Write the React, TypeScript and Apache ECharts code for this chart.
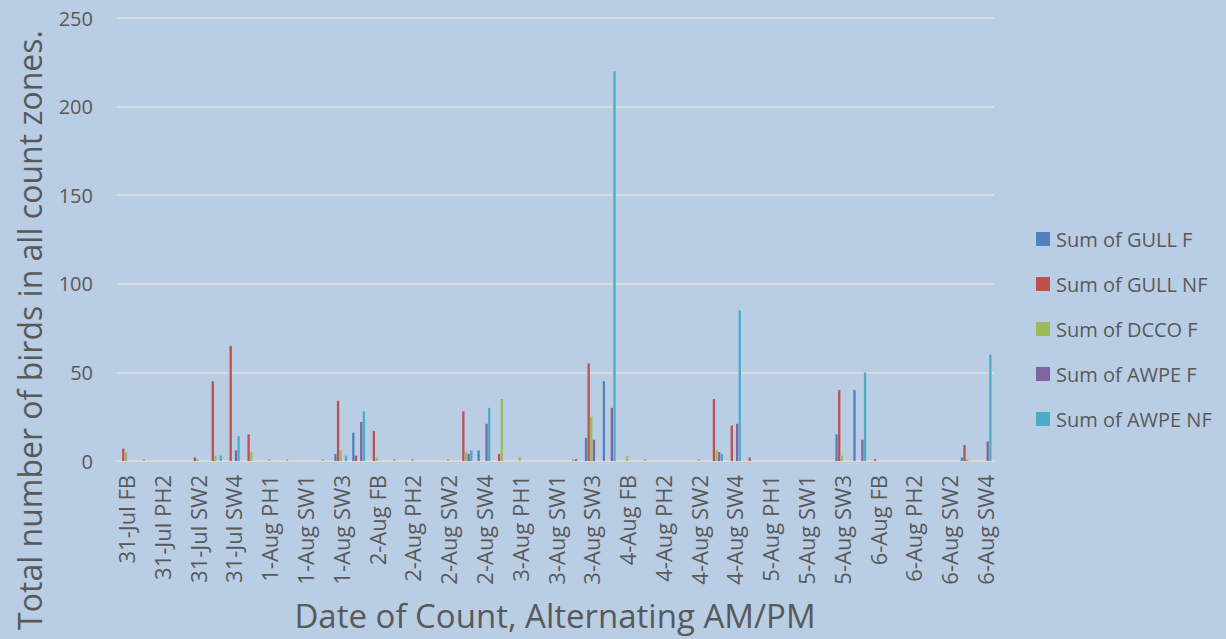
import React, { useEffect, useRef } from "react";
import * as echarts from "echarts";

const days = ["31-Jul", "1-Aug", "2-Aug", "3-Aug", "4-Aug", "5-Aug", "6-Aug"];
const sites = ["FB", "PH1", "PH2", "SW1", "SW2", "SW3", "SW4"];
const categories = days.flatMap((d) => sites.map((s) => `${d} ${s}`));

const seriesNames = ["Sum of GULL F", "Sum of GULL NF", "Sum of DCCO F", "Sum of AWPE F", "Sum of AWPE NF"];
const seriesColors = ["#4F81BD", "#C0504D", "#9BBB59", "#8064A2", "#4BACC6"];

const gullF = [
  0, 0, 0, 0, 0, 0, 0,
  0, 0, 0, 0, 0, 4, 16,
  0, 0, 0, 0, 0, 0, 6,
  0, 0, 0, 0, 0, 13, 45,
  0, 0, 0, 0, 0, 0, 0,
  0, 0, 0, 0, 0, 15, 40,
  0, 0, 0, 0, 0, 2, 0,
];
const gullNF = [
  7, 0, 0, 0, 2, 45, 65,
  15, 0, 0, 0, 0, 34, 3,
  17, 0, 0, 0, 0, 28, 0,
  4, 0, 0, 0, 0, 55, 0,
  0, 0, 0, 0, 0, 35, 20,
  2, 0, 0, 0, 0, 40, 0,
  1, 0, 0, 0, 0, 9, 0,
];
const dccoF = [
  5, 1, 0, 0, 1, 3, 0,
  5, 1, 1, 0, 1, 6, 0,
  2, 1, 1, 0, 1, 5, 0,
  35, 2, 0, 0, 1, 25, 0,
  3, 1, 0, 0, 1, 6, 0,
  0, 0, 0, 0, 0, 3, 0,
  0, 0, 0, 0, 0, 1, 0,
];
const awpeF = [
  0, 0, 0, 0, 0, 0, 6,
  0, 0, 0, 0, 0, 0, 22,
  0, 0, 0, 0, 0, 4, 21,
  0, 0, 0, 0, 1, 12, 30,
  0, 0, 0, 0, 0, 5, 21,
  0, 0, 0, 0, 0, 0, 12,
  0, 0, 0, 0, 0, 0, 11,
];
const awpeNF = [
  0, 0, 0, 0, 0, 3, 14,
  0, 0, 0, 0, 0, 3, 28,
  0, 0, 0, 0, 0, 6, 30,
  0, 0, 0, 0, 0, 0, 220,
  0, 0, 0, 0, 0, 4, 85,
  0, 0, 0, 0, 0, 0, 50,
  0, 0, 0, 0, 0, 0, 60,
];
const allSeries = [gullF, gullNF, dccoF, awpeF, awpeNF];

const yTitle = "Total number of birds in all count zones.";
const xTitle = "Date of Count, Alternating AM/PM";

const FONT = "'Open Sans', sans-serif";
const TEXT = "#595959";

export default function App() {
  const ref = useRef<HTMLDivElement>(null);
  useEffect(() => {
    if (!ref.current) return;
    const chart = echarts.init(ref.current, undefined, { renderer: "svg" });
    chart.setOption({
      animation: false,
      backgroundColor: "#B9CDE5",
      textStyle: { fontFamily: FONT },
      grid: { left: 117, right: 232, top: 18, bottom: 178, containLabel: false },
      legend: {
        orient: "vertical",
        left: 1031,
        top: 224,
        itemWidth: 14,
        itemHeight: 14,
        itemGap: 25,
        icon: "rect",
        data: seriesNames,
        textStyle: { color: TEXT, fontSize: 20, fontFamily: FONT, padding: [0, 0, 0, 1] },
      },
      xAxis: {
        type: "category",
        data: categories,
        axisLine: { lineStyle: { color: "#D9D9D9", width: 2 } },
        axisTick: { show: false },
        axisLabel: {
          interval: 1,
          rotate: 90,
          color: TEXT,
          fontSize: 22,
          fontFamily: FONT,
          margin: 14,
        },
      },
      yAxis: {
        type: "value",
        min: 0,
        max: 250,
        interval: 50,
        axisLine: { show: false },
        axisTick: { show: false },
        axisLabel: { color: TEXT, fontSize: 20, fontFamily: FONT, margin: 24 },
        splitLine: { lineStyle: { color: "#D9D9D9", width: 2 } },
      },
      series: seriesNames.map((name, k) => ({
        name,
        type: "bar",
        data: allSeries[k],
        barWidth: 2.3,
        barGap: "15%",
        itemStyle: { color: seriesColors[k] },
      })),
      graphic: [
        {
          type: "text",
          x: 29,
          y: 330,
          rotation: Math.PI / 2,
          style: {
            text: yTitle,
            fill: TEXT,
            fontSize: 32,
            fontFamily: FONT,
            align: "center",
            verticalAlign: "middle",
          },
        },
        {
          type: "text",
          x: 555,
          y: 615,
          style: {
            text: xTitle,
            fill: TEXT,
            fontSize: 33,
            fontFamily: FONT,
            align: "center",
            verticalAlign: "middle",
          },
        },
      ],
    });
    return () => chart.dispose();
  }, []);
  return (
    <div
      ref={ref}
      style={{ position: "fixed", left: 0, top: 0, width: 1226, height: 639 }}
    />
  );
}
